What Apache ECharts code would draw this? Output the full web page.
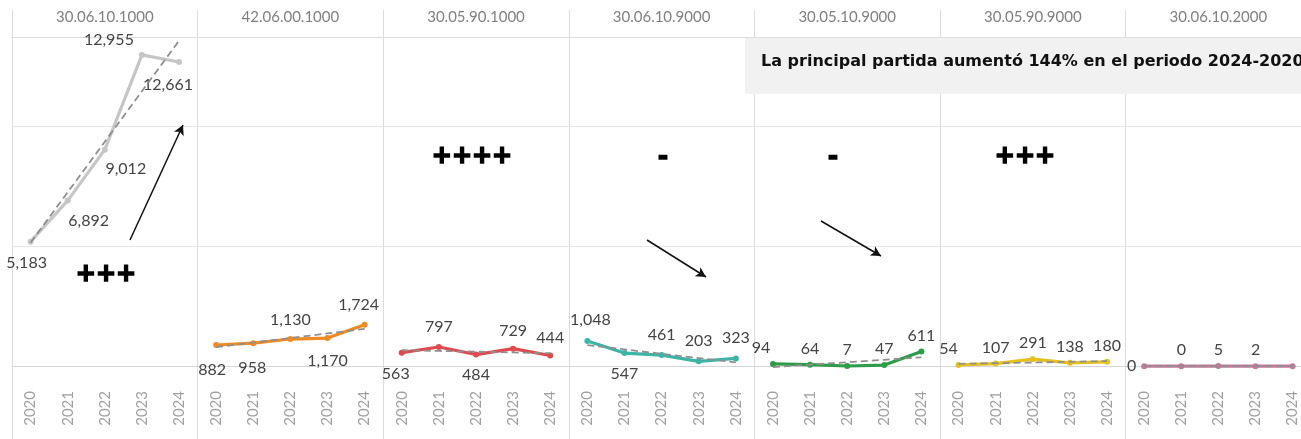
<!DOCTYPE html>
<html>
<head>
<meta charset="utf-8">
<script src="https://cdn.jsdelivr.net/npm/echarts@6/dist/echarts.min.js"></script>
<style>
  html, body { margin: 0; padding: 0; background: #fff; }
  #chart { width: 1301px; height: 439px; }
</style>
</head>
<body>
<div id="chart"></div>
<script>
// ---- data ----
const years = ['2020', '2021', '2022', '2023', '2024']
const codes = ['30.06.10.1000', '42.06.00.1000', '30.05.90.1000', '30.06.10.9000', '30.05.10.9000', '30.05.90.9000', '30.06.10.2000']
const p300610_1000 = [5183, 6892, 9012, 12955, 12661]
const p420600_1000 = [882, 958, 1130, 1170, 1724]
const p300590_1000 = [563, 797, 484, 729, 444]
const p300610_9000 = [1048, 547, 461, 203, 323]
const p300510_9000 = [94, 64, 7, 47, 611]
const p300590_9000 = [54, 107, 291, 138, 180]
const p300610_2000 = [0, 0, 5, 2, 0]
const gridValues = [5000, 10000]
const zeroValue = 0
const note = 'La principal partida aumentó 144% en el periodo 2024-2020'

const panels = [p300610_1000, p420600_1000, p300590_1000, p300610_9000, p300510_9000, p300590_9000, p300610_2000]
const colors = ['#c6c6c6', '#f08a24', '#df4a4f', '#3db5a6', '#2e9c48', '#e8c21c', '#c27a9a']

// label placement: [position, dx, dy]
const labelPlace = [
    [['bottom', -4, 5], ['bottom', 21, 4], ['bottom', 21, 3], ['left', 0, -15], ['bottom', -11, 7]],
    [['bottom', -4, 9], ['bottom', -1, 9], ['top', 0, -3], ['bottom', 0, 7], ['top', -6, -4]],
    [['bottom', -6, 5], ['top', 0, -4], ['bottom', 0, 4], ['top', 0, -2], ['top', 0, -2]],
    [['top', 3, -5], ['bottom', 0, 5], ['top', 0, -4], ['top', 0, -4], ['top', 0, -5]],
    [['top', -12, 0], ['top', 0, 0], ['top', 0, 0], ['top', 0, 0], ['top', 0, 0]],
    [['top', -10, 0], ['top', 0, 0], ['top', 0, 0], ['top', 0, 0], ['top', 0, 0]],
    [['left', 0, 0], ['top', 0, 0], ['top', 0, 0], ['top', 0, 0], ['right', 0, 0]],
]

// least squares trend for the dashed line
function trend(vals) {
    const n = vals.length
    const mx = (n - 1) / 2
    const my = vals.reduce((a, b) => a + b, 0) / n
    let num = 0, den = 0
    vals.forEach((v, i) => { num += (i - mx) * (v - my); den += (i - mx) * (i - mx) })
    const b = num / den
    return vals.map((v, i) => +(my + b * (i - mx)).toFixed(1))
}

// annotation arrows (pixels) per panel
const arrows = {
    0: [[130, 240], [183, 125]],
    3: [[647, 240], [706, 277]],
    4: [[821, 221], [881, 256]],
}
const signs = [
    { text: '+++', x: 106, y: 275 },
    { text: '++++', x: 472, y: 157 },
    { text: '-', x: 663, y: 158 },
    { text: '-', x: 833, y: 158 },
    { text: '+++', x: 1025, y: 157 },
]

// ---- layout ----
const left0 = 12
const panelW = 185.6
const top0 = 37
const plotH = 346
const lineCol = '#dcdcdc'
const font = 'Lato'

const grid = [], xAxis = [], yAxis = [], series = []

panels.forEach((vals, i) => {
    grid.push({ left: left0 + i * panelW, top: top0, width: panelW, height: plotH, outerBoundsMode: 'none' })

    // years axis
    xAxis.push({
        gridIndex: i, type: 'category', data: years, position: 'bottom', boundaryGap: true,
        axisLine: { lineStyle: { color: lineCol } },
        axisTick: { show: false },
        axisLabel: { rotate: 90, margin: 8, color: '#a0a0a0', fontSize: 15, fontFamily: font },
        splitLine: { show: false },
    })
    // header axis
    xAxis.push({
        gridIndex: i, type: 'category', data: [codes[i]], position: 'top', boundaryGap: true,
        axisLine: { lineStyle: { color: lineCol } },
        axisTick: { show: true, length: 27, lineStyle: { color: lineCol } },
        axisLabel: { margin: 12, color: '#808080', fontSize: 15, fontFamily: font },
        splitLine: { show: false },
    })
    // separators below the axis
    xAxis.push({
        gridIndex: i, type: 'category', data: [''], position: 'bottom', boundaryGap: true,
        axisLine: { show: false },
        axisTick: { show: true, length: 56, lineStyle: { color: lineCol } },
        axisLabel: { show: false },
        splitLine: { show: false },
    })
    yAxis.push({
        gridIndex: i, type: 'value', min: -700, max: 13700,
        axisLine: { show: true, lineStyle: { color: lineCol } },
        axisTick: { show: false }, axisLabel: { show: false }, splitLine: { show: false },
    })

    series.push({
        type: 'line', xAxisIndex: i * 3, yAxisIndex: i,
        data: vals.map((v, j) => ({
            value: v,
            label: { position: labelPlace[i][j][0], offset: [labelPlace[i][j][1], labelPlace[i][j][2]] },
        })),
        symbol: 'circle', symbolSize: 6,
        lineStyle: { color: colors[i], width: 3.2 },
        itemStyle: { color: colors[i] },
        label: {
            show: true, fontSize: 16, fontFamily: font, color: '#444',
            formatter: (p) => p.value.toLocaleString('en-US'),
        },
        z: 3,
        markLine: {
            silent: true, symbol: 'none', label: { show: false },
            lineStyle: { color: '#e6e6e6', width: 1, type: 'solid' },
            data: gridValues.map((g) => ({ yAxis: g }))
                .concat([{ yAxis: zeroValue, lineStyle: { color: '#cfcfcf', type: 'dotted' } }]),
            z: 1,
        },
    })

    const tr = {
        type: 'line', xAxisIndex: i * 3, yAxisIndex: i,
        data: trend(vals), symbol: 'none', silent: true,
        lineStyle: { color: '#8f8f8f', width: 1.8, type: [7, 4] },
        z: 4,
    }
    if (arrows[i]) {
        tr.markLine = {
            silent: true, symbol: ['none', 'arrow'], symbolSize: [8, 10],
            label: { show: false },
            lineStyle: { color: '#111', width: 1.5, type: 'solid' },
            data: [[{ x: arrows[i][0][0], y: arrows[i][0][1] }, { x: arrows[i][1][0], y: arrows[i][1][1] }]],
        }
    }
    series.push(tr)
})

const graphic = [
    {
        type: 'rect', left: 745, top: 38, z: 10,
        shape: { width: 570, height: 56 },
        style: { fill: '#f1f1f1' },
    },
    {
        type: 'text', left: 761, top: 54, z: 11,
        style: { text: note, fill: '#111', font: 'bold 16px "DejaVu Sans"' },
    },
].concat(signs.map((s) => ({
    type: 'text', x: s.x, y: s.y, z: 11,
    style: {
        text: s.text, fill: '#000', stroke: '#000', lineWidth: 1.6,
        font: 'bold 24px "DejaVu Sans"', align: 'center', verticalAlign: 'middle',
    },
})))

const chart = echarts.init(document.getElementById('chart'))
chart.setOption({
    animation: false,
    grid, xAxis, yAxis, series, graphic,
})
</script>
</body>
</html>
